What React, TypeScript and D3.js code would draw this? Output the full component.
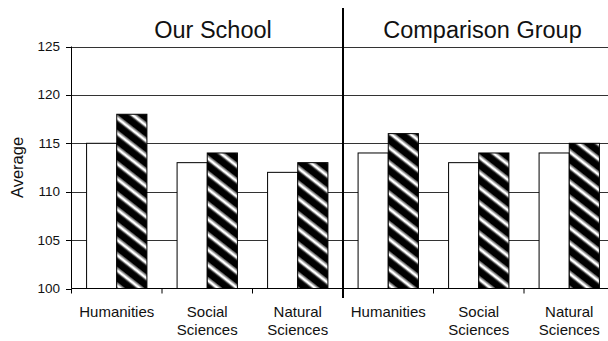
import React from "react";
import * as d3 from "d3";

// Panels and subject areas
const groups = ["Our School", "Comparison Group"];
const subjects = ["Humanities", "Social Sciences", "Natural Sciences"];
const subjectLines = [["Humanities"], ["Social", "Sciences"], ["Natural", "Sciences"]];

// Two series per subject: plain bar and striped bar
const plainValues = [115, 113, 112, 114, 113, 114];
const stripedValues = [118, 114, 113, 116, 114, 115];

const yTicks = [100, 105, 110, 115, 120, 125];

const W = 608;
const H = 341;
const FONT = "Arial, 'Liberation Sans', Helvetica, sans-serif";

export default function App() {
  const categories = groups.flatMap((g) => subjects.map((s) => `${g}|${s}`));

  const x = d3.scaleBand<string>().domain(categories).range([71.5, 614.5]).paddingInner(0).paddingOuter(0);
  const series = d3.scaleBand<string>().domain(["plain", "striped"]).range([0, x.bandwidth()]).paddingInner(0).paddingOuter(0.5);
  const y = d3.scaleLinear().domain([100, 125]).range([288.5, 46.5]);

  const axisY = y(100);
  const divX = x(categories[3])!;

  return (
    <svg width={W} height={H} style={{ position: "absolute", left: 0, top: 0, background: "#fff" }} fontFamily={FONT}>
      <defs>
        <pattern id="stripes" patternUnits="userSpaceOnUse" width={12} height={12} patternTransform="rotate(38)">
          <rect x={0} y={0} width={12} height={12} fill="#000" />
          <rect x={0} y={6.2} width={12} height={1.2} fill="#888" />
          <rect x={0} y={7.4} width={12} height={2.6} fill="#fff" />
          <rect x={0} y={10} width={12} height={1.2} fill="#888" />
        </pattern>
      </defs>

      {/* horizontal gridlines */}
      {yTicks.filter((t) => t !== 100).map((t) => (
        <line key={t} x1={71.5} x2={W} y1={Math.round(y(t)) + 0.5} y2={Math.round(y(t)) + 0.5} stroke="#333" strokeWidth={1} />
      ))}

      {/* bars */}
      {categories.map((c, i) => {
        const x0 = x(c)!;
        const pX = x0 + series("plain")!;
        const sX = x0 + series("striped")!;
        const bw = series.bandwidth();
        return (
          <g key={c}>
            <rect x={pX} y={y(plainValues[i])} width={bw} height={axisY - y(plainValues[i])} fill="#fff" stroke="#000" strokeWidth={1} />
            <rect x={sX} y={y(stripedValues[i])} width={bw} height={axisY - y(stripedValues[i])} fill="url(#stripes)" stroke="#000" strokeWidth={1} />
          </g>
        );
      })}

      {/* y axis */}
      <line x1={71.5} x2={71.5} y1={y(125)} y2={axisY} stroke="#000" strokeWidth={1} />
      {yTicks.map((t) => (
        <g key={t}>
          <line x1={66} x2={71.5} y1={Math.round(y(t)) + 0.5} y2={Math.round(y(t)) + 0.5} stroke="#000" />
          <text x={60} y={y(t) + 4.5} textAnchor="end" fontSize={13.5} fill="#111">{t}</text>
        </g>
      ))}
      <text transform={`translate(23,${(y(100) + y(125)) / 2}) rotate(-90)`} textAnchor="middle" fontSize={16.5} fill="#111">Average</text>

      {/* x axis */}
      <line x1={71.5} x2={W} y1={axisY} y2={axisY} stroke="#000" strokeWidth={1} />
      {categories.map((c) => (
        <line key={c} x1={x(c)!} x2={x(c)!} y1={axisY} y2={axisY + 5} stroke="#000" />
      ))}
      {categories.map((c, i) => {
        const cx = x(c)! + x.bandwidth() / 2;
        const lines = subjectLines[i % 3];
        return (
          <text key={c} textAnchor="middle" fontSize={15} fill="#111">
            {lines.map((l, k) => (
              <tspan key={k} x={cx} y={317 + k * 18}>{l}</tspan>
            ))}
          </text>
        );
      })}

      {/* divider between panels */}
      <line x1={divX} x2={divX} y1={8} y2={298} stroke="#000" strokeWidth={2} />

      {/* panel titles */}
      <text x={213} y={37.5} textAnchor="middle" fontSize={23.5} fill="#111">{groups[0]}</text>
      <text x={482.5} y={37.5} textAnchor="middle" fontSize={23.5} fill="#111">{groups[1]}</text>
    </svg>
  );
}
